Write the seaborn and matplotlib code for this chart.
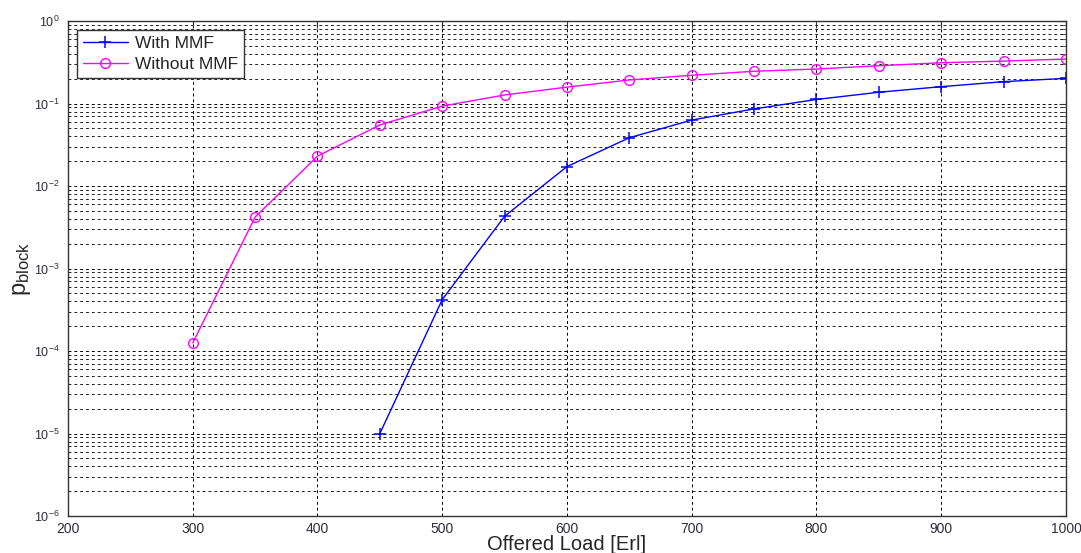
import numpy as np
import pandas as pd
import matplotlib
matplotlib.use("Agg")
import matplotlib.pyplot as plt
import seaborn as sns
from matplotlib.ticker import LogLocator, FixedLocator, NullFormatter

# Offered load (Erlang) and blocking probabilities
load_with = [450, 500, 550, 600, 650, 700, 750, 800, 850, 900, 950, 1000]
pblock_with = [1.0e-5, 4.2e-4, 4.3e-3, 0.0172, 0.0385, 0.063, 0.086, 0.112,
               0.137, 0.160, 0.184, 0.202]

load_without = [300, 350, 400, 450, 500, 550, 600, 650, 700, 750, 800, 850,
                900, 950, 1000]
pblock_without = [1.25e-4, 4.2e-3, 0.023, 0.055, 0.093, 0.127, 0.158, 0.193,
                  0.220, 0.246, 0.262, 0.287, 0.312, 0.327, 0.346]

x_ticks = [200, 300, 400, 500, 600, 700, 800, 900, 1000]

sns.set_style("white")
plt.rcParams["font.family"] = ["Liberation Sans", "DejaVu Sans"]
plt.rcParams["mathtext.fontset"] = "custom"
plt.rcParams["mathtext.rm"] = "Liberation Sans"
plt.rcParams["mathtext.it"] = "Liberation Sans"

fig = plt.figure(figsize=(10.81, 5.53), dpi=100)
ax = fig.add_axes([0.0629, 0.0669, 0.9232, 0.8951])

sns.lineplot(x=load_with, y=pblock_with, ax=ax, color="#0000ff",
             marker="+", markersize=9, markeredgecolor="#0000ff",
             markeredgewidth=1.1, linewidth=1.0, label="With MMF")
sns.lineplot(x=load_without, y=pblock_without, ax=ax, color="#ff00ff",
             marker="o", markersize=7, markerfacecolor="none",
             markeredgecolor="#ff00ff", markeredgewidth=1.0, linewidth=1.0,
             label="Without MMF")

ax.set_yscale("log")
ax.set_xlim(200, 1000)
ax.set_ylim(1e-6, 1)
ax.xaxis.set_major_locator(FixedLocator(x_ticks))
ax.yaxis.set_major_locator(LogLocator(base=10, numticks=10))
ax.yaxis.set_minor_locator(LogLocator(base=10, subs=np.arange(2, 10), numticks=20))
ax.yaxis.set_minor_formatter(NullFormatter())

ax.grid(True, which="major", axis="both", color="black", linestyle=(0, (3, 3)), linewidth=0.7)
ax.grid(True, which="minor", axis="y", color="#222222", linestyle=(0, (3, 3)), linewidth=0.7)

for s in ax.spines.values():
    s.set_color("#333333")
    s.set_linewidth(1.0)
    s.set_visible(True)

ax.tick_params(axis="both", which="both", direction="in", top=True, right=True,
               colors="#333333", labelcolor="#2e2e40")
ax.tick_params(axis="both", which="major", length=5)
ax.tick_params(axis="x", which="major", labelsize=10, pad=4)
ax.tick_params(axis="y", which="major", labelsize=9, pad=6)
ax.tick_params(axis="y", which="minor", length=3)
for lbl in ax.get_xticklabels():
    lbl.set_fontstretch("condensed")

ax.set_xlabel("Offered Load [Erl]", fontsize=14.5)
ax.xaxis.set_label_coords(0.5, -0.039)
ax.set_ylabel(r"p$_{\mathregular{block}}$", fontsize=17, labelpad=1)

leg = ax.legend(loc="upper left", fontsize=12.5, frameon=True, fancybox=False,
                framealpha=1, edgecolor="#333333", borderaxespad=0.5,
                handlelength=2.6, handletextpad=0.4, borderpad=0.35,
                labelspacing=0.35)
leg.get_frame().set_linewidth(1.0)

fig.savefig("out.png", dpi=100)
